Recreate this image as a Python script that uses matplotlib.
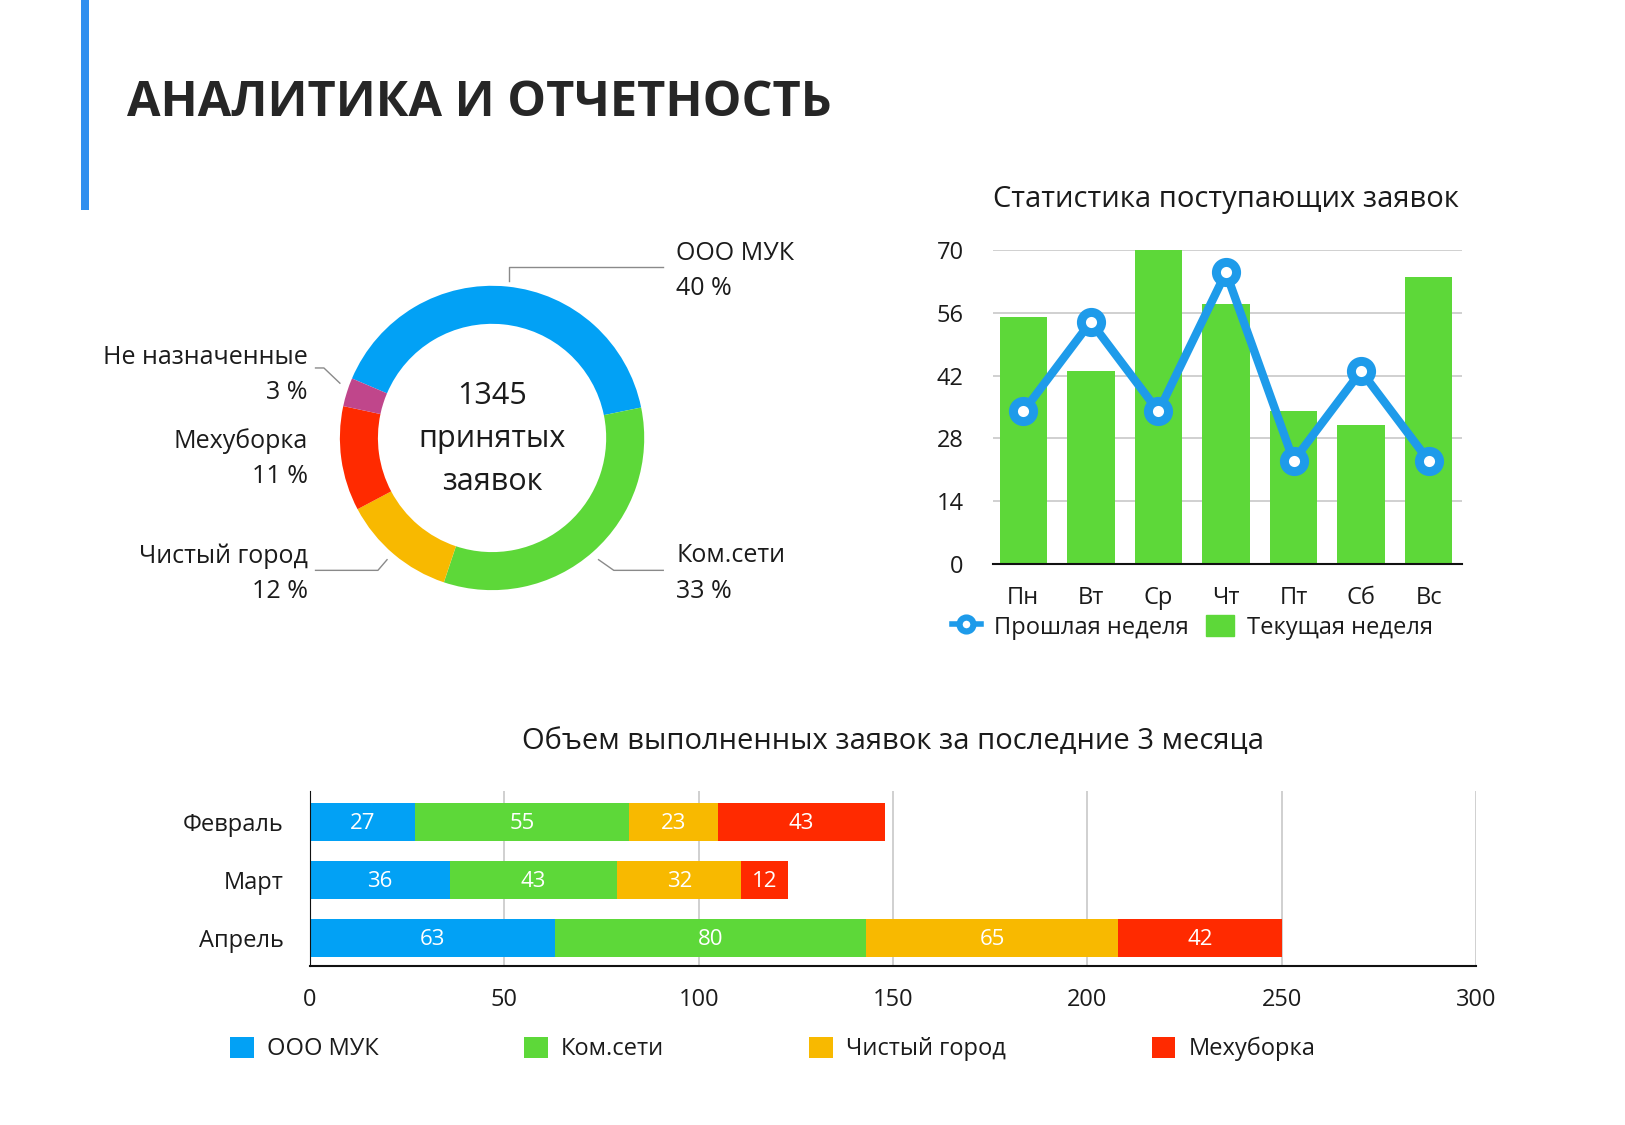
import matplotlib
matplotlib.use("Agg")
import matplotlib.pyplot as plt
from matplotlib.patches import Rectangle, Patch
from matplotlib.lines import Line2D
import numpy as np

plt.rcParams['font.family'] = ['Open Sans', 'DejaVu Sans']
TXT = '#1b1b1b'

# Donut data
donut_labels = ['ООО МУК', 'Ком.сети', 'Чистый город', 'Мехуборка', 'Не назначенные']
donut_pct = [40, 33, 12, 11, 3]
donut_colors = ['#02A1F5', '#5DD839', '#F8B900', '#FF2A00', '#C0468B']
total_requests = 1345

# Weekly stats
days = ['Пн', 'Вт', 'Ср', 'Чт', 'Пт', 'Сб', 'Вс']
current_week = [55, 43, 70, 58, 34, 31, 64]
last_week = [34, 54, 34, 65, 23, 43, 23]
week_ticks = [0, 14, 28, 42, 56, 70]

# Monthly volumes
months = ['Февраль', 'Март', 'Апрель']
companies = ['ООО МУК', 'Ком.сети', 'Чистый город', 'Мехуборка']
volumes = {
    'ООО МУК': [27, 36, 63],
    'Ком.сети': [55, 43, 80],
    'Чистый город': [23, 32, 65],
    'Мехуборка': [43, 12, 42],
}
month_ticks = [0, 50, 100, 150, 200, 250, 300]

fig = plt.figure(figsize=(16.25, 11.25), dpi=100)
fig.patch.set_facecolor('white')

# header
fig.add_artist(Rectangle((0.0498, 0.8133), 0.005, 0.19, transform=fig.transFigure,
                         color='#2F8FEF', lw=0))
fig.text(0.078, 0.908, 'АНАЛИТИКА И ОТЧЕТНОСТЬ', fontsize=35, fontweight='bold',
         color='#262626', va='center', ha='left')

# ---------- donut ----------
axd = fig.add_axes([0.0874, 0.2996, 0.4308, 0.6222])
axd.pie(donut_pct, colors=donut_colors, startangle=157, counterclock=False,
        radius=1.0, wedgeprops=dict(width=0.25, linewidth=0))
axd.set_xlim(-2.3, 2.3)
axd.set_ylim(-2.3, 2.3)
axd.set_aspect('equal')
axd.axis('off')

fs_lab = 18
axd.text(0, 0.276, str(total_requests), ha='center', va='center', fontsize=22, color=TXT)
axd.text(0, -0.01, 'принятых', ha='center', va='center', fontsize=22, color=TXT)
axd.text(0, -0.29, 'заявок', ha='center', va='center', fontsize=22, color=TXT)

lc = '#8a8a8a'
# ООО МУК
axd.plot([0.11, 0.11, 1.125], [1.03, 1.125, 1.125], color=lc, lw=1)
axd.text(1.21, 1.21, donut_labels[0], ha='left', va='center', fontsize=fs_lab, color=TXT)
axd.text(1.21, 0.98, f'{donut_pct[0]} %', ha='left', va='center', fontsize=fs_lab, color=TXT)
# Ком.сети
axd.plot([0.70, 0.80, 1.125], [-0.80, -0.87, -0.87], color=lc, lw=1)
axd.text(1.21, -0.775, donut_labels[1], ha='left', va='center', fontsize=fs_lab, color=TXT)
axd.text(1.21, -1.01, f'{donut_pct[1]} %', ha='left', va='center', fontsize=fs_lab, color=TXT)
# Чистый город
axd.plot([-1.16, -0.75, -0.69], [-0.87, -0.87, -0.80], color=lc, lw=1)
axd.text(-1.21, -0.775, donut_labels[2], ha='right', va='center', fontsize=fs_lab, color=TXT)
axd.text(-1.21, -1.01, f'{donut_pct[2]} %', ha='right', va='center', fontsize=fs_lab, color=TXT)
# Мехуборка
axd.text(-1.21, -0.02, donut_labels[3], ha='right', va='center', fontsize=fs_lab, color=TXT)
axd.text(-1.21, -0.25, f'{donut_pct[3]} %', ha='right', va='center', fontsize=fs_lab, color=TXT)
# Не назначенные
axd.plot([-1.16, -1.105, -1.0], [0.46, 0.46, 0.36], color=lc, lw=1)
axd.text(-1.21, 0.53, donut_labels[4], ha='right', va='center', fontsize=fs_lab, color=TXT)
axd.text(-1.21, 0.30, f'{donut_pct[4]} %', ha='right', va='center', fontsize=fs_lab, color=TXT)

# ---------- weekly chart ----------
axw = fig.add_axes([0.611, 0.4987, 0.289, 0.2791])
x = np.arange(len(days))
axw.bar(x, current_week, width=0.7, color='#5DD839', zorder=2)
axw.plot(x, last_week, color='#1E9BEA', lw=6, marker='o', ms=14.5, mew=6.5,
         mfc='white', mec='#1E9BEA', zorder=3, clip_on=False)
axw.set_xlim(-0.45, 6.5)
axw.set_ylim(0, 70)
axw.set_yticks(week_ticks)
axw.set_xticks(x)
axw.set_xticklabels(days)
axw.grid(axis='y', color='#c8c8c8', lw=1.2, zorder=0)
for s in ['left', 'right', 'top']:
    axw.spines[s].set_visible(False)
axw.spines['bottom'].set_color('#111111')
axw.spines['bottom'].set_linewidth(1.5)
axw.spines['bottom'].set_zorder(4)
axw.tick_params(axis='y', length=0, pad=21, labelsize=17, labelcolor=TXT)
axw.tick_params(axis='x', length=0, pad=16, labelsize=17, labelcolor=TXT)
fig.text(0.7545, 0.823, 'Статистика поступающих заявок', ha='center', va='center',
         fontsize=21, color=TXT)
h_line = Line2D([], [], color='#1E9BEA', lw=4, marker='o', ms=10, mew=4.5,
                mfc='white', mec='#1E9BEA')
h_bar = Patch(color='#5DD839')
fig.legend([h_line, h_bar], ['Прошлая неделя', 'Текущая неделя'], loc='center left',
           bbox_to_anchor=(0.586, 0.4425), frameon=False, ncol=2, fontsize=17,
           handlelength=1.2, handleheight=1.0, handletextpad=0.55, columnspacing=0.75,
           borderpad=0, borderaxespad=0, labelcolor=TXT)

# ---------- monthly stacked chart ----------
axm = fig.add_axes([0.1908, 0.1413, 0.7175, 0.1556])
y = np.arange(len(months))
left = np.zeros(len(months))
for comp, col in zip(companies, donut_colors[:4]):
    vals = np.array(volumes[comp])
    axm.barh(y, vals, left=left, height=0.66, color=col, zorder=2, label=comp)
    for yi, (l, v) in enumerate(zip(left, vals)):
        axm.text(l + v / 2, yi + 0.03, str(v), ha='center', va='center', color='white',
                 fontsize=16, zorder=3)
    left += vals
axm.set_xlim(0, 300)
axm.set_ylim(2.48, -0.53)
axm.set_xticks(month_ticks)
axm.set_yticks(y)
axm.set_yticklabels(months)
axm.grid(axis='x', color='#c8c8c8', lw=1.2, zorder=0)
axm.spines['top'].set_visible(False)
axm.spines['right'].set_visible(False)
axm.spines['left'].set_color('#111111')
axm.spines['bottom'].set_color('#111111')
axm.spines['bottom'].set_linewidth(1.5)
axm.tick_params(axis='y', length=0, pad=19, labelsize=17, labelcolor=TXT)
axm.tick_params(axis='x', length=0, pad=16, labelsize=17, labelcolor=TXT)
fig.text(0.5495, 0.341, 'Объем выполненных заявок за последние 3 месяца', ha='center',
         va='center', fontsize=21, color=TXT)
handles, labels = axm.get_legend_handles_labels()
fig.legend(handles, labels, loc='center left', bbox_to_anchor=(0.1415, 0.0675),
           frameon=False, ncol=4, fontsize=17, handlelength=1.0, handleheight=1.0,
           handletextpad=0.57, columnspacing=6.15, borderpad=0, borderaxespad=0,
           labelcolor=TXT)

fig.savefig('out.png', dpi=100, facecolor='white')
